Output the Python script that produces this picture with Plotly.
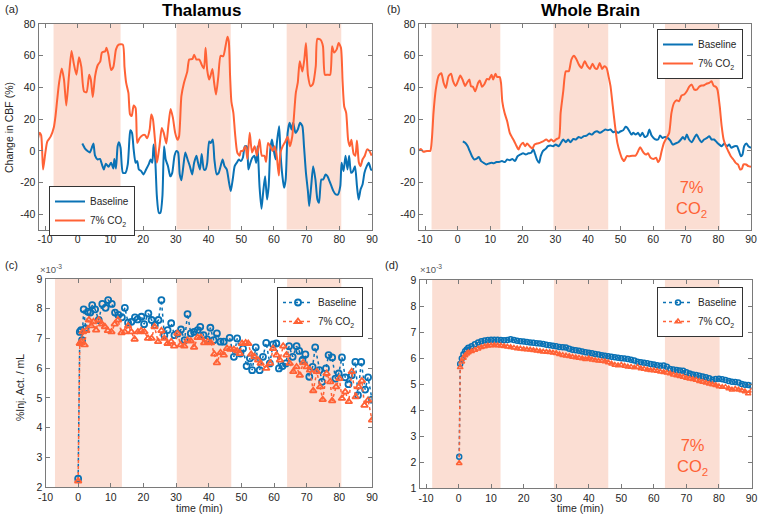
import plotly.graph_objects as go

# ---------------- data ----------------
# (a) Thalamus, change in CBF (%)
a_co2_t = [-12.4,-11.7,-11.2,-10.6,-9.9,-9.3,-8.3,-7.3,-6.8,-6.3,
           -5.7,-4.9,-4.2,-3.5,-2.7,-1.9,-1.2,-0.4,0.4,1.1,
           1.9,2.7,3.5,4.0,4.6,5.3,6.1,6.9,7.4,8.4,
           8.8,9.4,10.2,10.9,11.7,12.5,13.8,14.3,14.8,15.5,
           16.0,16.5,17.1,17.7,18.2,18.9,19.9,20.6,21.2,22.0,
           22.5,23.0,23.7,24.2,24.6,25.0,25.7,26.3,27.1,27.7,
           28.4,29.1,29.8,30.5,31.0,31.7,32.5,33.5,34.1,35.1,
           35.6,36.3,37.2,37.9,38.6,39.1,39.6,40.2,40.7,41.2,
           41.7,42.3,43.0,43.7,44.5,45.2,45.8,46.2,46.6,47.0,
           47.6,48.1,48.8,49.5,49.9,50.5,51.3,51.9,52.6,53.3,
           54.1,54.8,55.6,56.3,57.1,57.6,58.2,58.9,59.6,60.2,
           60.8,61.5,62.0,62.7,63.5,64.2,64.9,65.6,66.1,66.7,
           67.3,67.9,68.7,69.3,69.8,70.4,71.2,71.9,72.8,73.3,
           74.3,75.0,75.6,76.4,77.2,77.8,78.4,79.2,79.8,80.5,
           81.0,81.5,82.1,82.7,83.2,83.7,84.4,84.9,85.4,86.0,
           86.5,87.1,87.8,88.5,89.2,89.9]
a_co2_v = [5,11.4,10,-11.7,-1,6,9,15,22,32,
           43,52,45,28.6,47,63,55,48,59,53,
           37.6,37,48,45,34,47,54,56.5,62,62.8,
           65,60.7,51,53,64,67,67,53,43,36.6,
           23,22,28.6,27,5,8,10,10,8,13.5,
           23,20,5,-7.5,-3,3,14.5,11.4,4.7,15.6,
           26.5,21,11.4,7,9.3,34.5,43,50,57.6,58,
           60.7,57.6,57.6,54.4,52,65,51,45,48,51.7,
           43.3,35.5,47,60,59.7,66,72,69,47,31,
           24,11.4,-1,-3,0,0,3,-5,11.4,-1,
           3,-3,7.2,-3,-3,-7,5,3,0,3,
           -2,-15.5,-1,3,6,9,3,9,21,36.6,
           43,56.5,50,57.6,68,48,40.8,42,53.4,70.6,
           70,66,48,48,48,66,62,64,68,65,
           44,28,24,7,3,7,-2,-3,6.6,-7.5,
           -9.6,-5.4,-3,1,0,-3]

a_base_t = [1.4,2.3,3.0,3.7,4.3,4.8,5.3,6.1,6.8,7.4,
            8.0,8.6,9.4,10.2,10.9,11.2,11.7,12.2,12.6,13.1,
            13.8,14.6,15.3,15.8,16.1,16.6,17.1,17.7,18.2,18.7,
            19.4,20.1,20.9,21.7,22.3,22.8,23.2,23.7,24.2,24.8,
            25.3,25.9,26.4,26.9,27.6,28.3,28.9,29.6,30.2,30.7,
            31.2,31.7,32.3,32.9,33.6,34.3,35.0,35.6,36.3,36.8,
            37.4,37.9,38.6,39.1,39.6,40.2,40.7,41.3,41.8,42.5,
            43.1,43.7,44.3,44.9,45.6,46.2,46.8,47.4,48.0,48.6,
            49.3,49.9,50.5,51.1,51.7,52.2,52.8,53.4,54.0,54.6,
            55.0,55.6,56.2,56.7,57.3,57.9,58.4,58.9,59.4,59.9,
            60.5,60.9,61.6,62.0,62.6,63.1,63.6,64.2,64.8,65.4,
            65.9,66.6,67.3,68.0,68.7,69.2,69.8,70.4,70.8,71.4,
            72.0,72.7,73.3,73.8,74.5,75.1,75.8,76.4,77.0,77.6,
            78.2,78.9,79.6,80.3,80.7,81.3,81.9,82.5,83.0,83.6,
            84.2,84.8,85.4,85.9,86.5,87.1,87.7,88.4,89.0,89.7,
            90.0]
a_base_v = [4.7,1.3,0,-1,2,4.7,-3,-5.4,-5,-8.5,
            -11.7,-8,-10,-7.5,-11,-5,-11,3,5.5,2,
            -13.8,-13.8,-8.5,7.2,13,11.4,1,-7.5,-6.4,-11.7,
            -12.7,-14.8,-11.7,-8.5,-5.4,-7.5,4,-5.4,-28.5,-39,
            -39,-28.5,3,-5.4,-9.6,-16,-13.8,-3,0,-1,
            -14.8,-18.4,-9.6,-1,-5.4,-9.6,-14.8,-7.5,-3,-7.5,
            -11.7,-2,-11.7,-11.7,-7.5,6,5,7.2,-5.4,-14.8,
            -13.8,-9.6,-5.4,-9.6,-11.7,-19,-25.3,-18,-9.6,-7.5,
            -5.4,-6.4,-4.3,3,3,-11.7,-7.5,-4.3,-3,-7.5,
            3,-22.5,-36.4,-26.3,-15.9,-30.6,-22.2,1,7.2,1,
            -5.4,5,15.6,-1,-15.9,-23.2,-18,11.4,17.7,13.5,
            17.7,11.4,13.5,17.7,15.6,3,-13.8,-25.3,-34.7,-22.2,
            -9.6,-18,-30.6,-32.6,-18,-18,-14.8,-16,-19,-22.2,
            -25.3,-27.4,-27.4,-22.2,-7.5,-12.7,-3,-11.7,-3,-13.8,
            -12.7,-9.6,-22.2,-30.6,-24.3,-21.2,-13.8,-9.6,-7.5,-11.7,
            -12]

# (b) Whole brain, change in CBF (%)
b_co2_t = [-12.2,-11.3,-10.5,-9.4,-8.4,-7.9,-7.4,-6.7,-5.8,-5.0,
           -4.3,-3.6,-2.8,-2.0,-1.4,-0.6,0.1,0.8,1.5,2.3,
           2.9,3.6,4.1,4.7,5.4,6.3,6.8,7.5,8.2,9.0,
           9.6,10.4,10.9,11.6,12.1,12.9,13.3,13.7,14.4,15.2,
           16.0,16.8,17.4,18.0,18.7,19.3,20.1,20.7,21.3,22.1,
           22.9,23.6,24.4,25.2,26.2,27.2,28.0,28.7,29.5,30.3,
           31.1,31.6,32.4,33.2,34.1,34.9,35.7,36.4,37.2,38.0,
           39.0,39.8,40.6,41.4,42.1,42.8,43.6,44.3,45.0,45.7,
           46.3,46.9,47.6,48.3,49.0,49.8,50.5,51.1,51.9,52.6,
           53.6,54.6,55.4,56.0,56.7,57.2,57.8,58.4,59.2,60.1,
           60.9,61.5,62.0,62.6,63.3,64.1,64.9,65.6,66.4,67.2,
           67.9,68.7,69.5,70.3,71.0,71.8,72.6,73.4,74.1,74.8,
           75.6,76.5,77.2,77.9,78.5,79.2,79.7,80.4,81.0,81.6,
           82.3,83.0,83.8,84.6,85.3,86.0,86.7,87.2,87.7,88.5,
           89.2,90.0]
b_co2_v = [0,1.3,-0.5,0,0,7.4,24,38.7,47.5,49,
           43,39.7,47,48.7,44,41,44,47.5,45,41,
           43,45,40.8,40.4,37.6,43,44.4,40.4,42,45.4,
           45,48,45,48.7,46.6,46.6,43,31.3,24,18.7,
           11.4,8.2,6,3.4,0.9,3.6,5.1,3,4.7,3,
           1.5,4,4.7,5.1,6,7.2,6,7.2,6,7.5,
           8.2,24,37.6,50.2,50.2,57.6,60,58,54.4,52.3,
           56.5,53.4,51.7,55,52.3,51.7,55.5,51.7,53.4,52.3,
           47,40.8,28.2,15.6,5.1,-1.1,-5,-6.4,-3.3,-3.3,
           -3,-3,0,2.4,0,-1.5,-2.3,-1.5,-4.3,-5,
           -4.3,-7.1,-5.4,0,5.1,8.2,11.4,24,30.3,32,
           31.3,35,35.6,37.6,40.4,41.8,38.7,38.7,40.4,41.2,
           41.4,42.5,42.9,44,41.2,40.4,38.7,28.2,15.6,7.2,
           3,0,-3.3,-5.4,-7.5,-8.5,-11.7,-11.3,-8.5,-8.5,
           -9.6,-10]

b_base_t = [1.6,2.4,3.1,3.7,4.4,5.1,5.7,6.5,7.2,8.0,
            8.8,9.5,10.4,11.1,11.9,12.7,13.6,14.5,15.2,16.0,
            16.8,17.6,18.4,19.3,20.1,20.9,21.7,22.6,23.2,23.8,
            24.4,25.0,25.5,26.2,27.0,27.7,28.5,29.3,30.1,31.0,
            31.6,32.4,33.2,33.9,34.6,35.5,36.3,37.1,37.9,38.7,
            39.6,40.4,41.2,42.0,42.8,43.7,44.5,45.3,46.1,46.9,
            47.7,48.5,49.2,50.0,50.8,51.5,52.1,52.7,53.3,53.9,
            54.6,55.4,56.0,56.7,57.4,58.2,58.8,59.5,60.1,60.8,
            61.5,62.1,62.8,63.6,64.4,65.2,66.0,66.8,67.7,68.5,
            69.1,69.7,70.3,71.0,71.8,72.6,73.3,74.1,74.8,75.6,
            76.5,77.2,77.9,78.7,79.5,80.3,81.0,81.8,82.6,83.3,
            84.0,84.9,85.7,86.3,86.9,87.4,87.9,88.6,89.2,90.0]
b_base_v = [6,5,3,0,-3.3,-5.4,-5,-3.8,-6.4,-7.5,
            -8.5,-8,-7.5,-7.8,-7,-7,-6.4,-7,-5.4,-5.8,
            -5,-6.4,-3.3,-2.2,-1.5,-2.2,-1.5,-1.1,1,-2.2,
            -5.8,-7.5,-3.3,0,1.3,3,3.4,3,4,3,
            4.7,7.2,5.5,7.2,5.5,7.5,7.2,8.8,8.2,9.3,
            9.7,11,10.3,11.8,12.4,11.4,12.4,13.5,13,13.5,
            11.8,12.4,11.4,12.4,13,15.2,14.5,12.4,10.3,11.4,
            10.3,11.4,9.3,11.4,8.8,9.7,13.5,9.7,8.2,7.2,
            7.2,9.7,8.2,8.8,8.2,6.6,4,4.7,5.5,7.2,
            8.8,7.2,10.3,7.2,5.5,8.2,10.3,7.5,5.5,7.2,
            8.2,9.3,7.2,7.2,5.5,4,3,4.7,3,4,
            2,3,3,0,-3.3,-2.2,3,4.7,3,2]

# (c) Thalamus, %Inj. Act. / mL (x1e-3)
c_base_t = [0,0.5,0.9,1.2,1.7,2.3,3.0,3.7,4.3,5.2,
            6.3,7.4,8.4,9.2,10.3,11.3,12.3,13.4,14.3,15.3,
            16.3,17.4,18.2,19.4,20.2,21.5,22.5,23.5,24.6,25.5,
            26.4,27.4,28.5,29.5,30.5,31.5,32.6,33.5,34.5,35.5,
            36.6,37.4,38.4,39.5,40.5,41.5,42.5,43.6,44.6,46.4,
            47.7,48.7,49.7,50.5,51.6,52.6,53.3,54.4,55.6,56.6,
            57.6,58.7,59.7,60.7,61.5,62.6,63.6,64.6,65.7,66.9,
            67.7,68.7,69.6,70.8,71.8,72.6,73.9,74.7,75.9,76.7,
            77.8,78.8,79.8,80.8,81.8,82.8,83.8,84.9,85.7,86.7,
            87.9,88.8,90.0]
c_base_v = [2.28,7.22,7.28,6.94,7.98,7.34,7.9,7.87,8.12,7.98,
            7.62,8.16,8.03,8.29,8.16,7.87,7.79,7.71,8.03,7.53,
            7.56,7.71,7.64,7.73,7.48,7.84,7.62,7.45,7.62,8.29,
            7.11,7.28,7.51,7.11,7.17,7.3,6.94,7.82,7.17,7.22,
            7.28,7.39,7.11,6.97,7.36,6.94,7.17,6.89,6.89,7.02,
            6.38,7.0,6.49,6.66,6.07,6.33,5.93,6.7,5.93,6.38,
            6.85,6.16,6.8,6.83,5.99,6.07,6.16,6.74,6.38,6.74,
            6.58,6.27,6.46,5.71,6.04,6.7,5.93,5.54,5.99,6.44,
            6.36,5.65,5.82,6.36,5.69,5.46,5.76,6.21,5.09,6.21,
            5.28,5.69,4.94]

c_co2_t = [0,0.5,0.9,1.4,2.0,2.5,3.3,4.0,4.7,5.5,
           6.3,7.3,8.2,9.1,10.2,11.2,12.2,13.3,14.3,15.3,
           16.3,17.3,18.3,19.3,20.3,21.4,22.5,23.4,24.5,25.5,
           26.4,27.4,28.5,29.4,30.4,31.4,32.5,33.5,34.5,35.5,
           36.6,37.6,38.6,39.7,40.7,41.7,42.5,43.6,44.6,45.6,
           46.6,47.7,48.7,49.5,50.2,51.3,52.1,53.0,54.0,55.1,
           55.9,57.6,58.8,59.7,60.8,61.8,62.8,63.8,64.8,65.9,
           66.9,67.9,68.9,70.0,71.0,72.0,73.1,74.1,74.9,76.1,
           77.2,77.8,79.0,80.0,80.8,81.8,82.9,83.8,85.0,85.9,
           86.9,87.7,88.8,90.0]
c_co2_v = [2.2,6.83,6.89,7.22,6.78,7.26,7.62,7.42,7.56,7.28,
           7.62,7.48,7.39,7.26,7.22,7.48,7.62,7.19,7.22,7.42,
           7.22,6.97,7.22,7.26,7.22,7.0,7.0,7.39,6.89,7.26,
           7.0,6.83,6.89,6.74,7.17,6.78,6.74,6.94,6.91,6.7,
           7.03,7.03,6.85,6.89,6.85,6.47,6.18,6.52,6.44,6.66,
           6.63,6.63,6.58,6.49,6.83,6.85,6.83,6.47,6.38,6.27,
           6.16,5.99,6.16,6.66,6.44,6.27,6.74,6.44,6.16,5.88,
           6.04,5.76,6.18,6.04,5.93,5.24,5.88,5.37,4.94,5.82,
           5.54,4.9,5.37,5.65,4.98,5.2,4.87,5.88,5.03,5.37,
           5.57,4.75,4.92,4.25]

# (d) Whole brain, %Inj. Act. / mL (x1e-3)
d_t = [0.2,0.5,1,1.5,2,2.5,3,
       4,5,6,7,8,9,10,11,12,13,
       14,15,16,17,18,19,20,21,22,23,
       24,25,26,27,28,29,30,31,32,33,
       34,35,36,37,38,39,40,41,42,43,
       44,45,46,47,48,49,50,51,52,53,
       54,55,56,57,58,59,60,61,62,63,
       64,65,66,67,68,69,70,71,72,73,
       74,75,76,77,78,79,80,81,82,83,
       84,85,86,87,88,89,90]
d_base_v = [2.2,5.77,5.98,6.14,6.26,6.33,6.39,
            6.45,6.53,6.6,6.64,6.67,6.69,6.7,6.7,6.7,6.69,
            6.68,6.69,6.72,6.69,6.66,6.64,6.63,6.62,6.6,6.59,
            6.57,6.56,6.54,6.51,6.49,6.47,6.45,6.42,6.41,6.4,
            6.36,6.32,6.3,6.28,6.25,6.22,6.2,6.18,6.15,6.13,
            6.11,6.09,6.07,6.05,6.03,6.01,5.99,5.98,5.96,5.93,
            5.9,5.86,5.84,5.82,5.8,5.77,5.75,5.72,5.7,5.71,
            5.66,5.58,5.56,5.54,5.52,5.51,5.45,5.4,5.37,5.35,
            5.32,5.29,5.26,5.22,5.16,5.19,5.2,5.18,5.15,5.12,
            5.09,5.08,5.06,5.0,4.97,4.96,4.93]
d_co2_v = [1.95,5.64,5.86,6.0,6.1,6.16,6.21,
           6.26,6.31,6.36,6.41,6.44,6.47,6.48,6.49,6.48,6.47,
           6.45,6.43,6.41,6.39,6.37,6.36,6.34,6.33,6.32,6.3,
           6.28,6.26,6.24,6.23,6.22,6.2,6.18,6.14,6.11,6.09,
           6.07,6.04,6.02,6.0,5.98,5.95,5.98,5.93,5.91,5.89,
           5.88,5.87,5.83,5.78,5.73,5.71,5.73,5.69,5.66,5.65,
           5.63,5.65,5.6,5.58,5.55,5.53,5.52,5.5,5.47,5.45,
           5.43,5.4,5.36,5.33,5.3,5.27,5.23,5.2,5.18,5.15,
           5.11,5.08,5.05,5.01,4.98,4.95,4.9,4.88,4.88,4.83,
           4.78,4.81,4.78,4.75,4.71,4.63,4.74]

# CO2 inhalation periods (min) per panel
shade_a = [(-7.4, 13.1), (30.2, 46.8), (63.9, 80.6)]
shade_b = [(-8.0, 13.1), (29.4, 46.2), (63.6, 80.4)]
shade_c = [(-7.1, 13.4), (30.2, 46.9), (64.0, 80.6)]
shade_d = [(-8.1, 12.9), (29.3, 46.0), (63.4, 80.2)]

x_ticks = [-10, 0, 10, 20, 30, 40, 50, 60, 70, 80, 90]
cbf_ticks = [-40, -20, 0, 20, 40, 60, 80]
act_ticks_c = [2, 3, 4, 5, 6, 7, 8, 9]
act_ticks_d = [1, 2, 3, 4, 5, 6, 7, 8, 9]

# ---------------- styling ----------------
BLUE = "#0a72b5"
ORANGE = "#ff6236"
SHADE = "#fbded3"
FONT = "Liberation Sans, Arial, Helvetica, sans-serif"
AXC = "#7a7a7a"
TXT = "#262626"

fig = go.Figure()

# (a)
fig.add_trace(go.Scatter(x=a_base_t, y=a_base_v, mode="lines", name="Baseline",
                         line=dict(color=BLUE, width=2, shape="spline", smoothing=0.6),
                         xaxis="x", yaxis="y", legend="legend"))
fig.add_trace(go.Scatter(x=a_co2_t, y=a_co2_v, mode="lines", name="7% CO<sub>2</sub>",
                         line=dict(color=ORANGE, width=2, shape="spline", smoothing=0.6),
                         xaxis="x", yaxis="y", legend="legend"))
# (b)
fig.add_trace(go.Scatter(x=b_base_t, y=b_base_v, mode="lines", name="Baseline",
                         line=dict(color=BLUE, width=2, shape="spline", smoothing=0.6),
                         xaxis="x2", yaxis="y2", legend="legend2"))
fig.add_trace(go.Scatter(x=b_co2_t, y=b_co2_v, mode="lines", name="7% CO<sub>2</sub>",
                         line=dict(color=ORANGE, width=2, shape="spline", smoothing=0.6),
                         xaxis="x2", yaxis="y2", legend="legend2"))
# (c)
fig.add_trace(go.Scatter(x=c_base_t, y=c_base_v, mode="lines+markers", name="Baseline",
                         line=dict(color=BLUE, width=1.5, dash="dot"),
                         marker=dict(symbol="circle-open", size=6, color=BLUE, line=dict(width=1.8)),
                         xaxis="x3", yaxis="y3", legend="legend3"))
fig.add_trace(go.Scatter(x=c_co2_t, y=c_co2_v, mode="lines+markers", name="7% CO<sub>2</sub>",
                         line=dict(color=ORANGE, width=1.5, dash="dot"),
                         marker=dict(symbol="triangle-up-open", size=6, color=ORANGE, line=dict(width=1.8)),
                         xaxis="x3", yaxis="y3", legend="legend3"))
# (d)
fig.add_trace(go.Scatter(x=d_t, y=d_base_v, mode="lines+markers", name="Baseline",
                         line=dict(color=BLUE, width=1.5, dash="dot"),
                         marker=dict(symbol="circle-open", size=5, color=BLUE, line=dict(width=1.5)),
                         xaxis="x4", yaxis="y4", legend="legend4"))
fig.add_trace(go.Scatter(x=d_t, y=d_co2_v, mode="lines+markers", name="7% CO<sub>2</sub>",
                         line=dict(color=ORANGE, width=1.5, dash="dot"),
                         marker=dict(symbol="triangle-up-open", size=5, color=ORANGE, line=dict(width=1.5)),
                         xaxis="x4", yaxis="y4", legend="legend4"))

# shaded periods
shapes = []
for xr, yr, spans in [("x", "y domain", shade_a), ("x2", "y2 domain", shade_b),
                      ("x3", "y3 domain", shade_c), ("x4", "y4 domain", shade_d)]:
    for s0, s1 in spans:
        shapes.append(dict(type="rect", xref=xr, yref=yr, x0=s0, x1=s1, y0=0, y1=1,
                           fillcolor=SHADE, line=dict(width=0), layer="below"))


def xax(domain, rng, anchor):
    return dict(domain=domain, range=rng, anchor=anchor, tickvals=x_ticks,
                ticktext=[str(v) for v in x_ticks],
                showline=True, mirror="ticks", linecolor=AXC, linewidth=1,
                ticks="inside", ticklen=4, tickcolor=AXC, showgrid=False, zeroline=False,
                automargin=False, ticklabeloverflow="allow",
                tickfont=dict(size=10.5, color=TXT, family=FONT))


def yax(domain, rng, anchor, tv):
    return dict(domain=domain, range=rng, anchor=anchor, tickvals=tv,
                ticktext=[str(v) for v in tv],
                showline=True, mirror="ticks", linecolor=AXC, linewidth=1,
                ticks="inside", ticklen=4, tickcolor=AXC, showgrid=False, zeroline=False,
                automargin=False, ticklabeloverflow="allow",
                tickfont=dict(size=10.5, color=TXT, family=FONT))


def leg(x, y, xanchor):
    return dict(x=x, y=y, xanchor=xanchor, yanchor="top", bgcolor="white",
                bordercolor="#333333", borderwidth=1,
                font=dict(size=10, color=TXT, family=FONT),
                tracegroupgap=0, itemwidth=30)


W, H = 760, 520


def px(x):
    return x / W


def py(y):
    return 1 - y / H


annotations = [
    dict(text="<b>Thalamus</b>", x=px(201), y=py(10), font=dict(size=17, color="black")),
    dict(text="<b>Whole Brain</b>", x=px(590), y=py(10), font=dict(size=17, color="black")),
    dict(text="(a)", x=px(11), y=py(9), font=dict(size=11, color=TXT)),
    dict(text="(b)", x=px(393), y=py(9), font=dict(size=11, color=TXT)),
    dict(text="(c)", x=px(11), y=py(265), font=dict(size=11, color=TXT)),
    dict(text="(d)", x=px(391), y=py(265), font=dict(size=11, color=TXT)),
    dict(text="Change in CBF (%)", x=px(9), y=py(128), textangle=-90, font=dict(size=10.5, color=TXT)),
    dict(text="%Inj. Act. / mL", x=px(20), y=py(388), textangle=-90, font=dict(size=10.5, color=TXT)),
    dict(text="time (min)", x=px(199), y=py(508), font=dict(size=10.5, color=TXT)),
    dict(text="time (min)", x=px(580), y=py(508), font=dict(size=10.5, color=TXT)),
    dict(text="×10<sup>-3</sup>", x=px(38), y=py(269), xanchor="left", font=dict(size=9.5, color="#555")),
    dict(text="×10<sup>-3</sup>", x=px(418), y=py(269), xanchor="left", font=dict(size=9.5, color="#555")),
    dict(text="7%<br>CO<sub>2</sub>", x=71.8, y=-30, xref="x2", yref="y2",
         font=dict(size=16.5, color=ORANGE)),
    dict(text="7%<br>CO<sub>2</sub>", x=72, y=2.2, xref="x4", yref="y4",
         font=dict(size=16.5, color=ORANGE)),
]
for a in annotations:
    a.setdefault("xref", "paper")
    a.setdefault("yref", "paper")
    a.setdefault("showarrow", False)
    a.setdefault("xanchor", "center")
    a.setdefault("yanchor", "middle")
    a["font"]["family"] = FONT

fig.update_layout(
    template="none",
    width=W, height=H, margin=dict(l=0, r=0, t=0, b=0, autoexpand=False),
    paper_bgcolor="white", plot_bgcolor="white",
    font=dict(family=FONT, color=TXT),
    xaxis=xax([px(38.5), px(372)], [-12, 90], "y"),
    yaxis=yax([py(229.5), py(24)], [-49.5, 80], "x", cbf_ticks),
    xaxis2=xax([px(418.5), px(751)], [-12, 90], "y2"),
    yaxis2=yax([py(229.5), py(24)], [-49.5, 80], "x2", cbf_ticks),
    xaxis3=xax([px(45.5), px(372)], [-10, 90], "y3"),
    yaxis3=yax([py(487), py(279)], [2, 9], "x3", act_ticks_c),
    xaxis4=xax([px(419.5), px(751.5)], [-12, 90], "y4"),
    yaxis4=yax([py(488), py(280)], [1, 9], "x4", act_ticks_d),
    legend=leg(px(49), py(186), "left"),
    legend2=leg(px(743), py(29), "right"),
    legend3=leg(px(363), py(287), "right"),
    legend4=leg(px(743), py(287), "right"),
    shapes=shapes,
    annotations=annotations,
)

fig.write_html("out.html", config={"displayModeBar": False},
               post_script="document.body.style.margin='0px';document.body.style.padding='0px';")
